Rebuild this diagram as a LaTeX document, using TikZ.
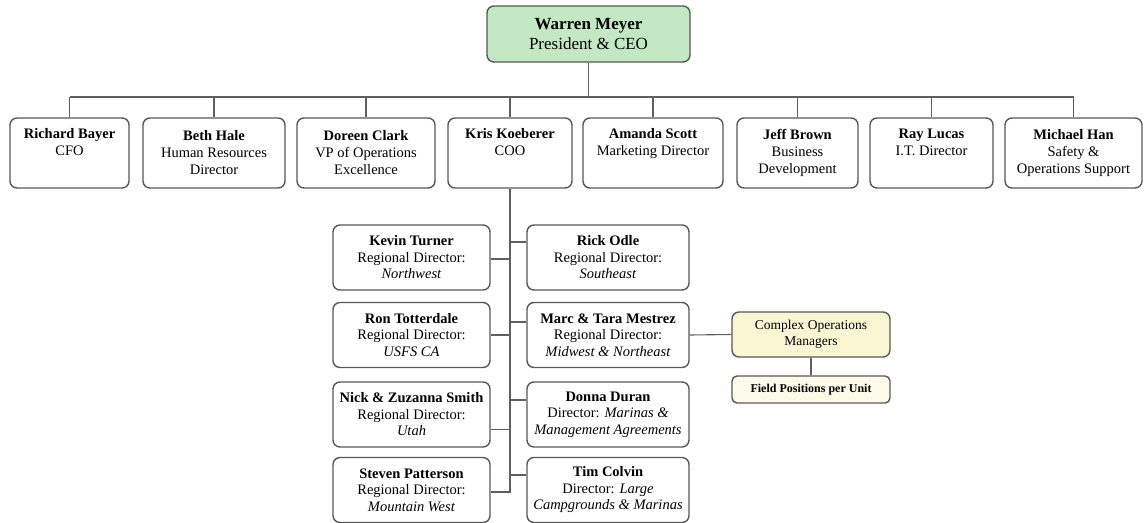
\documentclass[tikz,border=0pt]{standalone}
\usepackage{fontspec}
\setmainfont{Liberation Serif}
\usetikzlibrary{positioning, calc}

\definecolor{ceogreen}{RGB}{196,231,196}
\definecolor{opsyellow}{RGB}{250,246,212}
\definecolor{fieldcream}{RGB}{252,250,232}
\definecolor{boxline}{RGB}{88,88,88}
\definecolor{wireline}{RGB}{95,95,95}

\begin{document}
\begin{tikzpicture}[x=1pt, y=-1pt,
        box/.style={draw=boxline, line width=1.4pt, rounded corners=7pt,
            fill=white, align=center, inner sep=0pt},
        topbox/.style={box, minimum height=70,
            font=\fontsize{14.5}{17}\selectfont},
        regbox/.style={box, minimum height=65,
            font=\fontsize{14.5}{16.5}\selectfont},
        wire/.style={draw=wireline, line width=1.1pt}]
        % ============================================================
        % 1 jednostka = 1 px obrazu (1148 x 522), y w dol
        % ============================================================
        \useasboundingbox (0,0) rectangle (1148,522);

        % === PREZES ===
        \node[box, fill=ceogreen, minimum width=203, minimum height=56,
            font=\fontsize{17}{20}\selectfont] (meyer) at (588.5,34)
            {\textbf{Warren Meyer}\\President \& CEO};

        % === 1. POZIOM: 8 dyrektorow ===
        \node[topbox, minimum width=119] (bayer) at (69.5,153)
            {\textbf{Richard Bayer}\\CFO\\\strut};
        \node[topbox, minimum width=142] (hale) at (214,153)
            {\textbf{Beth Hale}\\Human Resources\\Director};
        \node[topbox, minimum width=138] (clark) at (366,153)
            {\textbf{Doreen Clark}\\VP of Operations\\Excellence};
        \node[topbox, minimum width=124] (koeberer) at (510,153)
            {\textbf{Kris Koeberer}\\COO\\\strut};
        \node[topbox, minimum width=140] (scott) at (653,153)
            {\textbf{Amanda Scott}\\Marketing Director\\\strut};
        \node[topbox, minimum width=121] (brown) at (797.5,153)
            {\textbf{Jeff Brown}\\Business\\Development};
        \node[topbox, minimum width=123] (lucas) at (931.5,153)
            {\textbf{Ray Lucas}\\I.T. Director\\\strut};
        \node[topbox, minimum width=137] (han) at (1073.5,153)
            {\textbf{Michael Han}\\Safety \&\\Operations Support};

        % === SZYNA pozioma ===
        \coordinate (bus) at (0,97);
        \draw[wire] (meyer.south) -- (meyer.south |- bus);
        \draw[wire] (bayer.north |- bus) -- (han.north |- bus);
        \foreach \n in {bayer,hale,clark,koeberer,scott,brown,lucas,han} {
            \draw[wire] (\n.north |- bus) -- (\n.north);
        }

        % === 2. POZIOM: dyrektorzy regionalni (lewa kolumna) ===
        \node[regbox, minimum width=157] (turner) at (411.5,257.5)
            {\textbf{Kevin Turner}\\Regional Director:\\\textit{Northwest}};
        \node[regbox, minimum width=157] (totterdale) at (411.5,335)
            {\textbf{Ron Totterdale}\\Regional Director:\\\textit{USFS CA}};
        \node[regbox, minimum width=157] (smith) at (411.5,414.5)
            {\textbf{Nick \& Zuzanna Smith}\\Regional Director:\\\textit{Utah}};
        \node[regbox, minimum width=157] (patterson) at (411.5,490)
            {\textbf{Steven Patterson}\\Regional Director:\\\textit{Mountain West}};

        % === prawa kolumna ===
        \node[regbox, minimum width=162] (odle) at (608,257.5)
            {\textbf{Rick Odle}\\Regional Director:\\\textit{Southeast}};
        \node[regbox, minimum width=162] (mestrez) at (608,335)
            {\textbf{Marc \& Tara Mestrez}\\Regional Director:\\\textit{Midwest \& Northeast}};
        \node[regbox, minimum width=162] (duran) at (608,414.5)
            {\textbf{Donna Duran}\\Director: \textit{Marinas \&}\\\textit{Management Agreements}};
        \node[regbox, minimum width=162] (colvin) at (608,490)
            {\textbf{Tim Colvin}\\Director: \textit{Large}\\\textit{Campgrounds \& Marinas}};

        % === PION od COO ===
        \coordinate (spine) at (koeberer.south);
        \path (patterson.east) ++(0,2) coordinate (pattersonIn);
        \draw[wire] (koeberer.south) -- (spine |- pattersonIn) -- (pattersonIn);
        % odgalezienia w lewo (przesuniecia jak w oryginale)
        \foreach \n/\dy in {turner/1.5, totterdale/0, smith/15} {
            \path (\n.east) ++(0,\dy) coordinate (\n In);
            \draw[wire] (spine |- \n In) -- (\n In);
        }
        % odgalezienia w prawo
        \foreach \n/\dy in {odle/-15.5, mestrez/-13, duran/-14.5, colvin/-15} {
            \path (\n.west) ++(0,\dy) coordinate (\n In);
            \draw[wire] (spine |- \n In) -- (\n In);
        }

        % === 3. KIEROWNICY KOMPLEKSOW ===
        \node[box, fill=opsyellow, minimum width=158, minimum height=45,
            font=\fontsize{13.5}{15.5}\selectfont] (complex) at (811,334.5)
            {Complex Operations\\Managers};
        \node[box, fill=fieldcream, minimum width=158, minimum height=27,
            rounded corners=5pt, font=\fontsize{12}{14}\selectfont\bfseries]
            (field) at (811,389.5) {Field Positions per Unit};
        \draw[wire] (mestrez.east) -- (complex.west);
        \draw[wire] (complex.south) -- (field.north);

    \end{tikzpicture}
\end{document}
